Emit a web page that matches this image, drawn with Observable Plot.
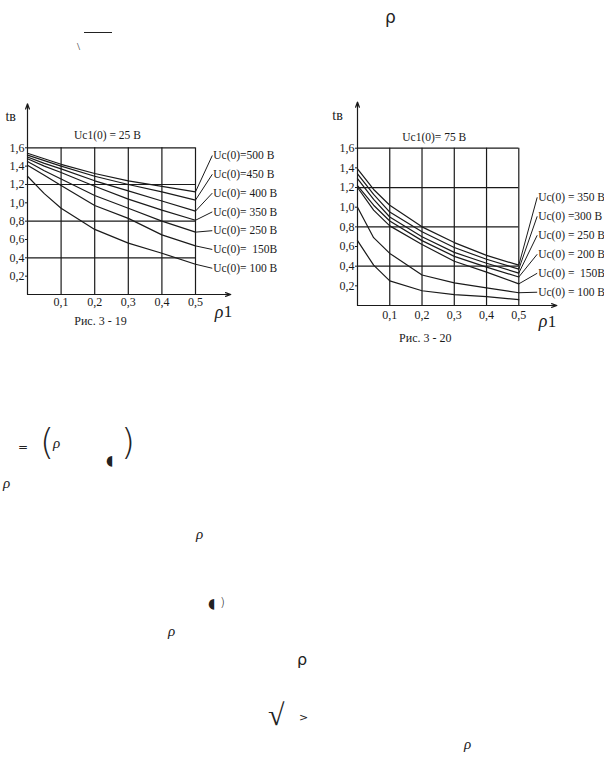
<!DOCTYPE html>
<html>
<head>
<meta charset="utf-8">
<script src="https://cdn.jsdelivr.net/npm/d3@7"></script>
<script src="https://cdn.jsdelivr.net/npm/@observablehq/plot@0.6"></script>
<style>
  html, body { margin: 0; padding: 0; background: #fff; }
  #page { position: relative; width: 604px; height: 766px; background: #fff; overflow: hidden; font-family: "Liberation Serif", serif; color: #1a1a1a; }
  .chart { position: absolute; }
  .g { position: absolute; line-height: 1; white-space: pre; color: #222; }
</style>
</head>
<body>
<div id="page"></div>
<script>
// ---------- data ----------
const rho = [0, 0.05, 0.1, 0.2, 0.3, 0.4, 0.5];
const xTicks = [0.1, 0.2, 0.3, 0.4, 0.5];
const yTicks = [0.2, 0.4, 0.6, 0.8, 1.0, 1.2, 1.4, 1.6];
const xGrid = [0.1, 0.2, 0.3, 0.4, 0.5];
const yGrid = [0.4, 0.8, 1.2, 1.6];

// Рис. 3-19, Uc1(0) = 25 В
const leftNames = ["500", "450", "400", "350", "250", "150", "100"];
const leftLabels = ["Uc(0)=500 В", "Uc(0)=450 В", "Uc(0)= 400 В", "Uc(0)= 350 В", "Uc(0)= 250 В", "Uc(0)=  150В", "Uc(0)= 100 В"];
const L500 = [1.54, 1.48, 1.42, 1.32, 1.24, 1.18, 1.12];
const L450 = [1.52, 1.46, 1.40, 1.29, 1.20, 1.12, 1.03];
const L400 = [1.50, 1.43, 1.37, 1.24, 1.13, 1.02, 0.91];
const L350 = [1.48, 1.40, 1.33, 1.18, 1.04, 0.92, 0.81];
const L250 = [1.45, 1.35, 1.26, 1.08, 0.94, 0.80, 0.68];
const L150 = [1.41, 1.30, 1.19, 0.97, 0.83, 0.65, 0.53];
const L100 = [1.29, 1.10, 0.94, 0.71, 0.56, 0.45, 0.33];

// Рис. 3-20, Uc1(0) = 75 В
const rightNames = ["350", "300", "250", "200", "150", "100", "low"];
const rightLabels = ["Uc(0) = 350 В", "Uc(0) =300 В", "Uc(0) = 250 В", "Uc(0) = 200 В", "Uc(0) =  150В", "Uc(0) = 100 В"];
const R350 = [1.39, 1.18, 1.02, 0.80, 0.64, 0.51, 0.41];
const R300 = [1.34, 1.13, 0.95, 0.75, 0.59, 0.47, 0.37];
const R250 = [1.29, 1.08, 0.90, 0.70, 0.54, 0.43, 0.33];
const R200 = [1.22, 1.02, 0.86, 0.66, 0.50, 0.39, 0.29];
const R150 = [1.20, 0.97, 0.81, 0.62, 0.45, 0.34, 0.22];
const R100 = [1.00, 0.69, 0.53, 0.31, 0.23, 0.18, 0.13];
const Rlow = [0.66, 0.41, 0.25, 0.15, 0.11, 0.09, 0.06];

// ---------- helpers ----------
const comma = d => d3.format(".1f")(d).replace(".", ",");
const FONT = "Liberation Serif";
const INK = "#1a1a1a";

function tidy(names, values) {
  return names.flatMap((s, i) => rho.map((x, j) => ({s, x, y: values[i][j]})));
}

function chart(o) {
  const rows = tidy(o.names, o.values);
  const lab = o.labels.map((t, i) => ({
    text: t,
    end: o.values[i][o.values[i].length - 1],
    ly: o.labelY0 - i * o.labelStep
  }));
  return Plot.plot({
    width: o.width, height: o.height,
    marginLeft: o.mL, marginRight: o.mR, marginTop: o.mT, marginBottom: o.mB,
    x: {domain: [0, 0.5]},
    y: {domain: [0, 1.6]},
    style: {fontFamily: FONT, fontSize: "12px", color: INK, background: "transparent", overflow: "visible"},
    marks: [
      Plot.ruleX(xGrid, {y1: 0, y2: 1.6, stroke: INK, strokeWidth: 1.2}),
      Plot.ruleY(yGrid, {x1: 0, x2: 0.5, stroke: INK, strokeWidth: 1.2}),
      Plot.arrow([0], {x1: 0, y1: 0, x2: o.xArrow, y2: 0, stroke: INK, strokeWidth: 1.2, headLength: 7, headAngle: 40}),
      Plot.arrow([0], {x1: 0, y1: 0, x2: 0, y2: o.yArrow, stroke: INK, strokeWidth: 1.2, headLength: 7, headAngle: 40}),
      Plot.axisX(xTicks, {tickSize: 0, tickPadding: o.xPad, tickFormat: comma, label: null, fontSize: 12, fill: INK}),
      Plot.axisY(yTicks, {tickSize: 2, tickPadding: 1, tickFormat: comma, label: null, fontSize: 12, fill: INK}),
      Plot.line(rows, {x: "x", y: "y", z: "s", stroke: INK, strokeWidth: 1.2}),
      Plot.link(lab, {x1: 0.5, y1: "end", x2: o.labelX, y2: "ly", stroke: INK, strokeWidth: 1}),
      Plot.text(lab, {x: o.labelX, y: "ly", text: "text", textAnchor: "start", dx: 1, fontSize: 11.5, fontFamily: FONT, fill: INK}),
      Plot.text([o.title], {x: o.titleX, y: o.titleY, text: d => d, fontSize: 11.5, fontFamily: FONT, fill: INK}),
      Plot.text([o.caption], {x: o.capX, y: o.capY, text: d => d, fontSize: 12, fontFamily: FONT, fill: INK}),
      Plot.text(["tв"], {x: o.tvX, y: o.tvY, text: d => d, fontSize: 14, fontFamily: FONT, fill: INK}),
      Plot.text(["ρ"], {x: o.rhoX, y: o.rhoY, text: d => d, fontSize: 18, fontStyle: "italic", fontFamily: FONT, fill: INK}),
      Plot.text(["1"], {x: o.rhoX, y: o.rhoY, dx: 9, text: d => d, fontSize: 17, fontFamily: FONT, fill: INK})
    ]
  });
}

const page = document.getElementById("page");

const left = chart({
  names: leftNames, labels: leftLabels,
  values: [L500, L450, L400, L350, L250, L150, L100],
  width: 300, height: 250, mL: 27, mR: 105, mT: 57.3, mB: 46,
  xArrow: 0.605, yArrow: 2.08, xPad: 3,
  labelX: 0.55, labelY0: 1.516, labelStep: 0.205,
  title: "Uc1(0) = 25 В", titleX: 0.238, titleY: 1.735,
  caption: "Рис. 3 - 19", capX: 0.217, capY: -0.29,
  tvX: -0.05, tvY: 1.94, rhoX: 0.57, rhoY: -0.19
});
left.classList.add("chart");
left.style.left = "0px"; left.style.top = "90px";
page.appendChild(left);

const right = chart({
  names: rightNames, labels: rightLabels,
  values: [R350, R300, R250, R200, R150, R100, Rlow],
  width: 304, height: 260, mL: 57, mR: 85.7, mT: 57.7, mB: 45,
  xArrow: 0.618, yArrow: 2.07, xPad: 5,
  labelX: 0.557, labelY0: 1.10, labelStep: 0.193,
  title: "Uc1(0)= 75 В", titleX: 0.238, titleY: 1.71,
  caption: "Рис. 3 - 20", capX: 0.21, capY: -0.335,
  tvX: -0.062, tvY: 1.935, rhoX: 0.575, rhoY: -0.16
});
right.classList.add("chart");
right.style.left = "300px"; right.style.top = "90px";
page.appendChild(right);

// ---------- stray glyphs of the scanned page ----------
const glyphs = [
  {t: "ρ", x: 385, y: 9, s: 17, f: "DejaVu Sans", i: false},
  {t: "\\", x: 77, y: 41, s: 11, f: FONT, i: false},
  {t: "=", x: 18, y: 441, s: 12, f: "DejaVu Sans", i: false},
  {t: "(", x: 40, y: 424, s: 36, f: "DejaVu Sans", i: false, w: 200},
  {t: "ρ", x: 53, y: 436, s: 15, f: FONT, i: true},
  {t: "◖", x: 106, y: 453, s: 14, f: "DejaVu Sans", i: false},
  {t: ")", x: 121, y: 424, s: 36, f: "DejaVu Sans", i: false, w: 200},
  {t: "ρ", x: 3, y: 476, s: 15, f: FONT, i: true},
  {t: "ρ", x: 196, y: 527, s: 15, f: FONT, i: true},
  {t: "◖", x: 208, y: 596, s: 14, f: "DejaVu Sans", i: false},
  {t: ")", x: 220, y: 596, s: 13, f: "DejaVu Sans", i: false, w: 200},
  {t: "ρ", x: 168, y: 624, s: 15, f: FONT, i: true},
  {t: "ρ", x: 297, y: 652, s: 16, f: "DejaVu Sans", i: false},
  {t: "√", x: 268, y: 700, s: 30, f: "DejaVu Sans", i: false, w: 200},
  {t: ">", x: 299, y: 712, s: 11, f: "DejaVu Sans", i: false},
  {t: "ρ", x: 464, y: 737, s: 15, f: FONT, i: true}
];
for (const g of glyphs) {
  const el = document.createElement("div");
  el.className = "g";
  el.textContent = g.t;
  el.style.left = g.x + "px";
  el.style.top = g.y + "px";
  el.style.fontSize = g.s + "px";
  el.style.fontFamily = g.f;
  el.style.fontStyle = g.i ? "italic" : "normal";
  if (g.w) el.style.fontWeight = g.w;
  page.appendChild(el);
}
// overbar of a radical at the top of the page
const bar = document.createElement("div");
bar.style.cssText = "position:absolute;left:84px;top:32px;width:28px;height:1px;background:#222;";
page.appendChild(bar);
</script>
</body>
</html>
